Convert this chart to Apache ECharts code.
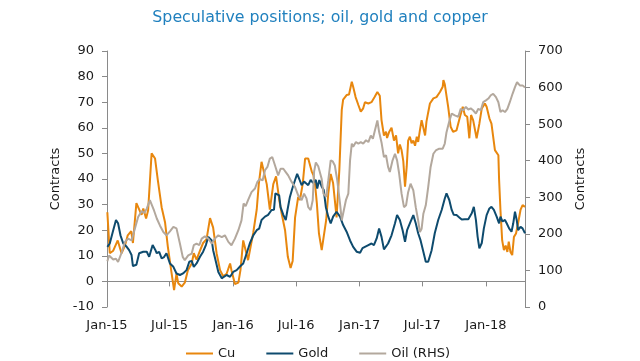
<!DOCTYPE html>
<html><head><meta charset="utf-8">
<script src="https://cdn.jsdelivr.net/npm/echarts@6/dist/echarts.min.js"></script>
<style>html,body{margin:0;padding:0;background:#fff}#c{width:640px;height:361px}</style>
</head><body><div id="c"></div>
<script>
const tickDates = ['2015-01-01','2015-07-01','2016-01-01','2016-07-01','2017-01-01','2017-07-01','2018-01-01'];
const tickLabels = ['Jan-15','Jul-15','Jan-16','Jul-16','Jan-17','Jul-17','Jan-18'];
const seriesNames = ['Cu','Gold','Oil (RHS)'];

const cuData = [['2015-01-02',27],['2015-01-09',11],['2015-01-19',12],['2015-02-01',16],['2015-02-12',11],['2015-02-22',14],['2015-03-02',18],['2015-03-12',19.6],['2015-03-17',15],['2015-03-27',30.6],['2015-04-01',31],['2015-04-11',26],['2015-04-16',28.5],['2015-04-24',24.6],['2015-04-30',27.8],['2015-05-10',50],['2015-05-20',48],['2015-05-28',39.6],['2015-06-08',29],['2015-06-18',23],['2015-06-26',13.5],['2015-07-07',3],['2015-07-14',-3.4],['2015-07-21',3],['2015-07-26',-0.7],['2015-08-05',-2],['2015-08-14',-0.5],['2015-08-23',4.4],['2015-09-03',7],['2015-09-09',11],['2015-09-17',8.5],['2015-09-27',12],['2015-10-06',15],['2015-10-16',16.5],['2015-10-26',24.7],['2015-10-31',25.2],['2015-11-04',21],['2015-11-14',11],['2015-11-24',4.4],['2015-12-03',2],['2015-12-13',3],['2015-12-23',7],['2015-12-27',4.4],['2016-01-06',-1],['2016-01-16',-0.5],['2016-01-22',4.4],['2016-01-30',16],['2016-02-04',16],['2016-02-13',8.3],['2016-02-28',19],['2016-03-09',28],['2016-03-15',38],['2016-03-23',46.7],['2016-03-28',46],['2016-04-07',38],['2016-04-16',28],['2016-04-26',38],['2016-05-04',41],['2016-05-13',32],['2016-05-20',26.6],['2016-05-30',20],['2016-06-07',9.6],['2016-06-15',5.2],['2016-06-21',8],['2016-06-28',25],['2016-07-07',33],['2016-07-12',31.8],['2016-07-20',38],['2016-07-27',48],['2016-08-05',48],['2016-08-15',43],['2016-08-20',41.5],['2016-08-25',37.6],['2016-08-30',30.5],['2016-09-05',18.8],['2016-09-13',12.2],['2016-09-18',12.2],['2016-09-26',24],['2016-10-02',34.4],['2016-10-09',42],['2016-10-16',38.3],['2016-10-26',25],['2016-11-03',43.5],['2016-11-10',67],['2016-11-14',71],['2016-11-24',72.8],['2016-12-01',73],['2016-12-09',78],['2016-12-13',76],['2016-12-20',72],['2016-12-28',68.9],['2017-01-04',66.3],['2017-01-11',67.6],['2017-01-16',70],['2017-01-26',69.5],['2017-02-04',70],['2017-02-13',72],['2017-02-21',74],['2017-02-28',72.5],['2017-03-05',63],['2017-03-12',57],['2017-03-18',58.5],['2017-03-21',56],['2017-03-27',58.4],['2017-04-03',60],['2017-04-10',55],['2017-04-16',57],['2017-04-22',50],['2017-04-27',53.5],['2017-05-02',51.3],['2017-05-07',47],['2017-05-12',37],['2017-05-17',45],['2017-05-21',55],['2017-05-26',56.5],['2017-05-31',54],['2017-06-05',55],['2017-06-10',53],['2017-06-15',56.5],['2017-06-19',54.5],['2017-06-24',59],['2017-06-29',63],['2017-07-04',63.6],['2017-07-09',57],['2017-07-13',62.4],['2017-07-18',66],['2017-07-23',69.5],['2017-08-02',71.5],['2017-08-11',72],['2017-08-21',74],['2017-08-29',76],['2017-08-31',78.6],['2017-09-04',77],['2017-09-14',68],['2017-09-21',60.4],['2017-09-28',58.4],['2017-10-08',59],['2017-10-18',64.3],['2017-10-26',68.2],['2017-11-01',65],['2017-11-08',64.3],['2017-11-14',55.9],['2017-11-19',65],['2017-11-25',63],['2017-12-05',55.9],['2017-12-13',61.6],['2017-12-20',67.6],['2017-12-29',69.5],['2018-01-03',68.2],['2018-01-11',63.7],['2018-01-17',61.6],['2018-01-27',51.3],['2018-02-06',49.3],['2018-02-08',40],['2018-02-12',27.9],['2018-02-17',16],['2018-02-22',12.2],['2018-02-27',14],['2018-03-04',11.5],['2018-03-08',15.5],['2018-03-13',11.5],['2018-03-18',10.3],['2018-03-23',17.4],['2018-03-29',18.7],['2018-04-04',22.7],['2018-04-11',27.9],['2018-04-17',29.8],['2018-04-24',29.1]];

const goldData = [['2015-01-02',13.5],['2015-01-09',14.8],['2015-01-19',20],['2015-01-27',24],['2015-02-02',22.7],['2015-02-09',18],['2015-02-17',14.8],['2015-02-27',13.5],['2015-03-06',12.2],['2015-03-13',10.3],['2015-03-17',6],['2015-03-27',6.5],['2015-04-04',11],['2015-04-16',11.6],['2015-04-26',11.6],['2015-05-03',9.6],['2015-05-13',14.2],['2015-05-20',12.5],['2015-05-25',11],['2015-06-01',11.5],['2015-06-08',9],['2015-06-15',9.5],['2015-06-22',11],['2015-07-02',7],['2015-07-12',5.7],['2015-07-21',3.1],['2015-07-31',2.5],['2015-08-09',3.1],['2015-08-19',4.4],['2015-08-27',7.7],['2015-09-03',8],['2015-09-09',5.7],['2015-09-17',7],['2015-09-27',9.6],['2015-10-06',11.6],['2015-10-14',14.2],['2015-10-21',17.4],['2015-10-26',17.6],['2015-10-31',16],['2015-11-04',12.2],['2015-11-12',7.7],['2015-11-19',3.7],['2015-11-29',1.2],['2015-12-05',1.8],['2015-12-13',2.5],['2015-12-23',1.8],['2016-01-01',3.7],['2016-01-11',4.4],['2016-01-22',6],['2016-01-30',7],['2016-02-09',11],['2016-02-18',14.8],['2016-02-28',18],['2016-03-09',20],['2016-03-16',20.6],['2016-03-23',24],['2016-04-02',25.3],['2016-04-11',26],['2016-04-21',27.9],['2016-04-28',28],['2016-05-02',34.4],['2016-05-07',34.8],['2016-05-13',33.6],['2016-05-17',29],['2016-05-25',26],['2016-06-01',24],['2016-06-06',27.9],['2016-06-13',33],['2016-06-20',36.3],['2016-06-28',39.6],['2016-07-04',42],['2016-07-10',40],['2016-07-17',37.6],['2016-07-24',39],['2016-07-29',39.6],['2016-08-05',37.6],['2016-08-12',39.6],['2016-08-19',38.5],['2016-08-27',39.6],['2016-08-31',36.3],['2016-09-06',39.6],['2016-09-13',37],['2016-09-19',35.7],['2016-09-25',29],['2016-10-02',25.3],['2016-10-09',22.7],['2016-10-16',25.3],['2016-10-26',27.2],['2016-11-05',25.3],['2016-11-14',22],['2016-11-24',19.4],['2016-12-04',16],['2016-12-13',13.5],['2016-12-23',11.6],['2017-01-02',11.2],['2017-01-09',13],['2017-01-16',13.5],['2017-01-26',14.2],['2017-02-04',14.8],['2017-02-11',14.2],['2017-02-19',16.8],['2017-02-26',20.7],['2017-03-05',17.4],['2017-03-12',12.5],['2017-03-24',14.8],['2017-04-03',18],['2017-04-13',22.7],['2017-04-19',25.9],['2017-04-27',24],['2017-05-05',20],['2017-05-12',15.5],['2017-05-18',20],['2017-05-26',22.7],['2017-06-05',25.9],['2017-06-12',22.7],['2017-06-19',18.8],['2017-06-26',16],['2017-07-04',11.6],['2017-07-11',7.7],['2017-07-18',7.7],['2017-07-28',12.2],['2017-08-06',18.8],['2017-08-16',24],['2017-08-26',27.9],['2017-09-04',32.4],['2017-09-09',34.4],['2017-09-17',31.8],['2017-09-24',27.9],['2017-09-30',26],['2017-10-08',25.9],['2017-10-16',25],['2017-10-23',24.2],['2017-11-01',24.3],['2017-11-11',24.3],['2017-11-21',26.6],['2017-11-27',29.1],['2017-12-03',24],['2017-12-08',17.4],['2017-12-13',12.9],['2017-12-20',15],['2017-12-26',20.7],['2018-01-03',25.9],['2018-01-11',28.5],['2018-01-17',29.1],['2018-01-24',27.9],['2018-02-01',25.3],['2018-02-08',22.7],['2018-02-12',25.3],['2018-02-18',23.4],['2018-02-25',24],['2018-03-02',22.7],['2018-03-09',20.7],['2018-03-16',19.4],['2018-03-21',22.7],['2018-03-26',27.2],['2018-03-31',24],['2018-04-04',20],['2018-04-11',21.3],['2018-04-17',20.7],['2018-04-24',18.8]];

const oilData = [['2015-01-02',125],['2015-01-07',141],['2015-01-19',130],['2015-01-27',132],['2015-02-02',123],['2015-02-12',148],['2015-02-22',178],['2015-03-03',187],['2015-03-13',182],['2015-03-22',212],['2015-04-01',246],['2015-04-11',262],['2015-04-19',257],['2015-04-26',269],['2015-05-05',292],['2015-05-10',288],['2015-05-17',264],['2015-05-25',242],['2015-06-03',223],['2015-06-13',205],['2015-06-22',196],['2015-07-02',207],['2015-07-12',219],['2015-07-17',223],['2015-07-21',215],['2015-07-31',173],['2015-08-08',137],['2015-08-14',128],['2015-08-24',141],['2015-09-03',146],['2015-09-09',169],['2015-09-17',173],['2015-09-25',169],['2015-10-02',187],['2015-10-11',193],['2015-10-21',187],['2015-10-31',173],['2015-11-09',187],['2015-11-19',196],['2015-11-29',191],['2015-12-08',196],['2015-12-18',178],['2015-12-27',169],['2016-01-06',187],['2016-01-16',210],['2016-01-25',237],['2016-01-31',283],['2016-02-06',276],['2016-02-13',292],['2016-02-23',314],['2016-03-04',324],['2016-03-11',342],['2016-03-18',350],['2016-03-26',346],['2016-04-02',374],['2016-04-09',383],['2016-04-16',406],['2016-04-23',410],['2016-05-01',387],['2016-05-10',360],['2016-05-17',378],['2016-05-25',378],['2016-06-01',369],['2016-06-08',360],['2016-06-18',342],['2016-06-28',328],['2016-07-07',305],['2016-07-17',292],['2016-07-24',310],['2016-07-31',297],['2016-08-05',273],['2016-08-12',265],['2016-08-18',292],['2016-08-22',370],['2016-08-27',395],['2016-09-03',385],['2016-09-13',350],['2016-09-18',310],['2016-09-26',301],['2016-10-02',346],['2016-10-09',401],['2016-10-15',398],['2016-10-21',387],['2016-10-28',346],['2016-11-05',283],['2016-11-10',237],['2016-11-14',241],['2016-11-22',292],['2016-11-29',310],['2016-12-04',401],['2016-12-09',447],['2016-12-13',438],['2016-12-21',451],['2016-12-28',447],['2017-01-04',451],['2017-01-11',447],['2017-01-19',456],['2017-01-26',451],['2017-02-02',469],['2017-02-08',460],['2017-02-14',483],['2017-02-21',510],['2017-02-26',479],['2017-03-05',450],['2017-03-12',410],['2017-03-18',415],['2017-03-24',383],['2017-03-29',369],['2017-04-06',401],['2017-04-13',419],['2017-04-19',401],['2017-04-25',365],['2017-05-02',310],['2017-05-09',273],['2017-05-15',278],['2017-05-21',314],['2017-05-28',337],['2017-06-05',319],['2017-06-12',273],['2017-06-19',237],['2017-06-24',205],['2017-06-29',214],['2017-07-04',255],['2017-07-11',278],['2017-07-18',328],['2017-07-25',383],['2017-08-02',419],['2017-08-09',428],['2017-08-19',433],['2017-08-29',433],['2017-09-04',447],['2017-09-09',478],['2017-09-17',508],['2017-09-24',529],['2017-10-03',524],['2017-10-13',520],['2017-10-20',542],['2017-10-27',538],['2017-11-04',547],['2017-11-11',540],['2017-11-18',543],['2017-11-25',538],['2017-12-03',529],['2017-12-10',542],['2017-12-17',538],['2017-12-24',560],['2018-01-01',565],['2018-01-08',570],['2018-01-15',579],['2018-01-22',583],['2018-01-30',574],['2018-02-06',560],['2018-02-12',533],['2018-02-18',538],['2018-02-25',533],['2018-03-04',542],['2018-03-11',560],['2018-03-19',583],['2018-03-26',601],['2018-04-01',615],['2018-04-09',606],['2018-04-17',606],['2018-04-24',600]];

const ts = s => echarts.number.parseDate(s).getTime();
const tickTs = tickDates.map(ts);
const labelFor = v => { const i = tickTs.indexOf(v); return i >= 0 ? tickLabels[i] : ''; };
const FONT = 'DejaVu Sans';
const TXT = '#1a1a1a';
const AX = '#8a8a8a';
const X_MIN = ts('2015-01-01'), X_MAX = ts('2018-04-24');

const chart = echarts.init(document.getElementById('c'), null, {renderer: 'canvas'});
chart.setOption({
  animation: false,
  backgroundColor: '#fff',
  title: {
    text: 'Speculative positions; oil, gold and copper',
    left: 'center', top: 5,
    textStyle: {fontFamily: FONT, fontSize: 15.8, fontWeight: 'normal', color: '#2080BE'}
  },
  legend: {
    data: seriesNames,
    left: 181, top: 342,
    icon: 'rect', itemWidth: 27, itemHeight: 2, itemGap: 31,
    textStyle: {fontFamily: FONT, fontSize: 13, color: TXT}
  },
  grid: {left: 107, right: 115, top: 51, bottom: 54, containLabel: false},
  xAxis: [{
    type: 'value', min: X_MIN, max: X_MAX, scale: true,
    position: 'bottom',
    axisLine: {show: true, onZero: true, onZeroAxisIndex: 0, lineStyle: {color: AX, width: 1}},
    axisTick: {show: true, length: 5, customValues: tickTs, lineStyle: {color: AX}},
    axisLabel: {show: false},
    splitLine: {show: false}
  }, {
    type: 'value', min: X_MIN, max: X_MAX, scale: true,
    position: 'bottom',
    axisLine: {show: false, onZero: false},
    axisTick: {show: false},
    axisLabel: {show: true, customValues: tickTs, formatter: labelFor, margin: 12,
      fontFamily: FONT, fontSize: 13, color: TXT},
    splitLine: {show: false}
  }],
  yAxis: [{
    type: 'value', min: -10, max: 90, interval: 10, position: 'left',
    name: 'Contracts', nameLocation: 'middle', nameGap: 31, nameRotate: 90,
    nameTextStyle: {fontFamily: FONT, fontSize: 13, color: TXT},
    axisLine: {show: true, lineStyle: {color: AX}},
    axisTick: {show: true, length: 5, lineStyle: {color: AX}},
    axisLabel: {margin: 13, fontFamily: FONT, fontSize: 13, color: TXT},
    splitLine: {show: false}
  }, {
    type: 'value', min: 0, max: 700, interval: 100, position: 'right',
    name: 'Contracts', nameLocation: 'middle', nameGap: 37, nameRotate: 90,
    nameTextStyle: {fontFamily: FONT, fontSize: 13, color: TXT},
    axisLine: {show: true, lineStyle: {color: AX}},
    axisTick: {show: true, length: 5, lineStyle: {color: AX}},
    axisLabel: {margin: 13, fontFamily: FONT, fontSize: 13, color: TXT},
    splitLine: {show: false}
  }],
  series: [
    {name: seriesNames[0], type: 'line', xAxisIndex: 0, yAxisIndex: 0, data: cuData.map(d => [ts(d[0]), d[1]]),
     symbol: 'none', color: '#E8870E', lineStyle: {width: 2, color: '#E8870E'}},
    {name: seriesNames[1], type: 'line', xAxisIndex: 0, yAxisIndex: 0, data: goldData.map(d => [ts(d[0]), d[1]]),
     symbol: 'none', color: '#0E4B6E', lineStyle: {width: 2, color: '#0E4B6E'}},
    {name: seriesNames[2], type: 'line', xAxisIndex: 0, yAxisIndex: 1, data: oilData.map(d => [ts(d[0]), d[1]]),
     symbol: 'none', color: '#B3A89D', lineStyle: {width: 2, color: '#B3A89D'}}
  ]
});
</script></body></html>
